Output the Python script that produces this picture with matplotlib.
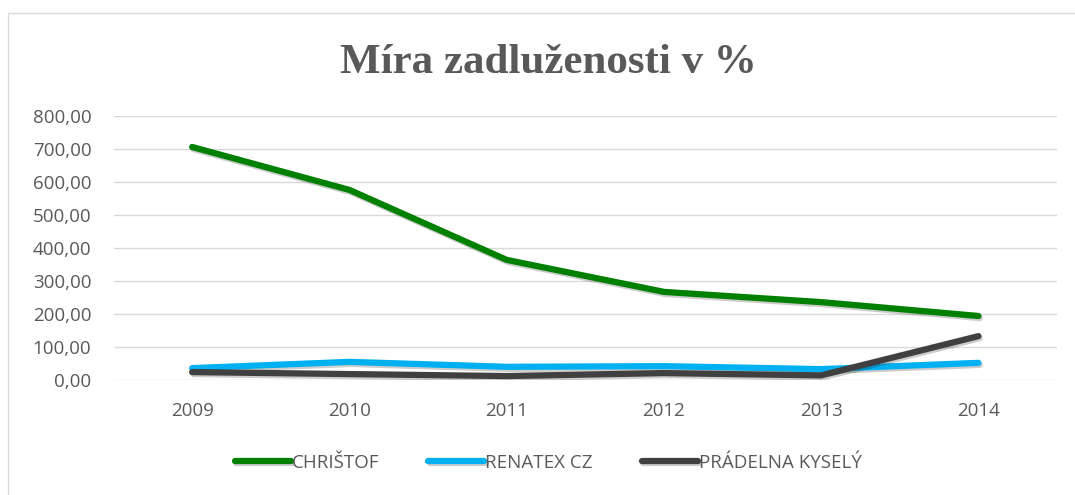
import matplotlib
matplotlib.use("Agg")
import matplotlib.pyplot as plt
import matplotlib.patheffects as pe
from matplotlib.patches import Rectangle
from matplotlib import ticker

# Data
years = ["2009", "2010", "2011", "2012", "2013", "2014"]
christof = [706, 576, 364, 267, 236, 194]
renatex = [36, 55, 40, 42, 33, 52]
pradelna = [24, 18, 12, 21, 14, 133]
series_names = ["CHRIŠTOF", "RENATEX CZ", "PRÁDELNA KYSELÝ"]
series_colors = ["#008000", "#00B0F0", "#404040"]

text_col = "#595959"
plt.rcParams['font.family'] = ['Open Sans', 'DejaVu Sans']

fig = plt.figure(figsize=(10.75, 4.95), dpi=100)

# chart frame (runs off right and bottom edge like the reference)
fig.patches.append(Rectangle((8 / 1075, -0.05), 1.2, 1 - 13 / 495 + 0.05,
                             transform=fig.transFigure, fill=False,
                             edgecolor="#d9d9d9", linewidth=1.0))

ax = fig.add_axes([0.1056, 0.2323, 0.8777, 0.5334])

shadow = [pe.SimpleLineShadow(offset=(1, -1.5), shadow_color="black", alpha=0.2),
          pe.Normal()]
x = range(len(years))
for vals, name, col in zip([christof, renatex, pradelna], series_names, series_colors):
    ax.plot(x, vals, color=col, linewidth=4.5, solid_capstyle="round",
            solid_joinstyle="round", label=name, path_effects=shadow)

ax.set_xlim(-0.5, len(years) - 0.5)
ax.set_ylim(0, 800)
ax.set_yticks(range(0, 801, 100))
ax.yaxis.set_major_formatter(ticker.FuncFormatter(lambda v, p: f"{v:.2f}".replace(".", ",")))
ax.set_xticks(list(x))
ax.set_xticklabels(years)
ax.grid(axis="y", color="#d9d9d9", linewidth=1.0)
ax.set_axisbelow(True)
for s in ax.spines.values():
    s.set_visible(False)
ax.tick_params(axis="both", length=0, labelsize=13.5, colors=text_col)
ax.tick_params(axis="y", pad=16)
ax.tick_params(axis="x", pad=16)

fig.text(0.51, 0.872, "Míra zadluženosti v %", ha="center", va="center",
         fontsize=31, fontweight="bold", family="Liberation Serif", color=text_col)

leg = fig.legend(loc="center", bbox_to_anchor=(0.51, 0.065), ncol=3, frameon=False,
                 fontsize=13.5, handlelength=3.0, handletextpad=0.05, columnspacing=2.6)
for t in leg.get_texts():
    t.set_color(text_col)

fig.savefig("out.png", dpi=100, facecolor="white")
